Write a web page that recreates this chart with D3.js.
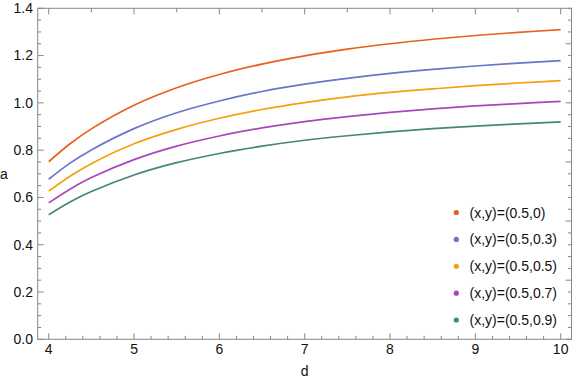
<!DOCTYPE html>
<html>
<head>
<meta charset="utf-8">
<script src="https://d3js.org/d3.v7.min.js"></script>
<style>
body { margin: 0; background: #fff; }
text { font-family: "Liberation Sans", Arial, sans-serif; }
.curve { fill: none; stroke-width: 1.7; }
</style>
</head>
<body>
<div id="chart"></div>
<script>
// d values sampled along the curves
const dVals = [4, 4.25, 4.5, 5, 5.5, 6, 6.5, 7, 7.5, 8, 8.5, 9, 9.5, 10];

const s00 = [0.751, 0.827, 0.890, 0.990, 1.064, 1.120, 1.164, 1.199, 1.227, 1.250, 1.269, 1.285, 1.298, 1.310];
const s03 = [0.677, 0.745, 0.801, 0.891, 0.958, 1.008, 1.048, 1.079, 1.104, 1.125, 1.142, 1.156, 1.168, 1.179];
const s05 = [0.627, 0.690, 0.743, 0.827, 0.888, 0.935, 0.972, 1.001, 1.025, 1.044, 1.059, 1.073, 1.084, 1.094];
const s07 = [0.577, 0.635, 0.684, 0.760, 0.817, 0.860, 0.894, 0.921, 0.942, 0.960, 0.975, 0.987, 0.997, 1.006];
const s09 = [0.527, 0.581, 0.625, 0.695, 0.747, 0.786, 0.817, 0.842, 0.861, 0.877, 0.891, 0.902, 0.911, 0.920];

const seriesNames = ["(x,y)=(0.5,0)", "(x,y)=(0.5,0.3)", "(x,y)=(0.5,0.5)", "(x,y)=(0.5,0.7)", "(x,y)=(0.5,0.9)"];
const seriesVals = [s00, s03, s05, s07, s09];
const colors = ["#e8611c", "#6a74c9", "#f5a00f", "#a648b8", "#44896f"];

const xTicks = [4, 5, 6, 7, 8, 9, 10];
const yTicks = [0, 0.2, 0.4, 0.6, 0.8, 1.0, 1.2, 1.4];

const W = 576, H = 383;
const mLeft = 37.7, mRight = 571.5, mTop = 8.3, mBottom = 339.3;

const svg = d3.select("#chart").append("svg")
  .attr("width", W).attr("height", H);

const x = d3.scaleLinear().domain([3.871, 10.127]).range([mLeft, mRight]);
const y = d3.scaleLinear().domain([0, 1.4]).range([mBottom, mTop]);

const frame = svg.append("g").attr("class", "frame");

// frame box
frame.append("rect")
  .attr("x", mLeft).attr("y", mTop)
  .attr("width", mRight - mLeft).attr("height", mBottom - mTop)
  .attr("fill", "none").attr("stroke", "#888").attr("stroke-width", 1);

// bottom ticks (inward)
const xMinor = d3.range(4, 10.001, 0.2).filter(v => Math.abs(v - Math.round(v)) > 1e-6);
frame.selectAll(".xmaj").data(xTicks).enter().append("line")
  .attr("x1", d => x(d)).attr("x2", d => x(d))
  .attr("y1", mBottom).attr("y2", mBottom - 6);
frame.selectAll(".xmin").data(xMinor).enter().append("line")
  .attr("x1", d => x(d)).attr("x2", d => x(d))
  .attr("y1", mBottom).attr("y2", mBottom - 3.5);

// top ticks
const xTop = d3.range(4, 10.001, 0.5);
frame.selectAll(".xtop").data(xTop).enter().append("line")
  .attr("x1", d => x(d)).attr("x2", d => x(d))
  .attr("y1", mTop).attr("y2", d => mTop + (Number.isInteger(d) ? 6 : 4));

// left ticks
const yMinor = d3.range(0, 1.4001, 0.05).filter(v => Math.abs(v * 5 - Math.round(v * 5)) > 1e-6);
frame.selectAll(".ymaj").data(yTicks).enter().append("line")
  .attr("x1", mLeft).attr("x2", mLeft + 6)
  .attr("y1", d => y(d)).attr("y2", d => y(d));
frame.selectAll(".ymin").data(yMinor).enter().append("line")
  .attr("x1", mLeft).attr("x2", mLeft + 3.5)
  .attr("y1", d => y(d)).attr("y2", d => y(d));

// right ticks
const yRight = d3.range(0, 1.4001, 0.05);
frame.selectAll(".yr").data(yRight).enter().append("line")
  .attr("x1", mRight).attr("x2", d => mRight - (Math.abs(d * 4 - Math.round(d * 4)) < 1e-6 ? 6 : 3.5))
  .attr("y1", d => y(d)).attr("y2", d => y(d));

frame.selectAll("line").attr("stroke", "#888").attr("stroke-width", 1);

// tick labels
svg.selectAll(".xl").data(xTicks).enter().append("text")
  .attr("x", d => x(d)).attr("y", 354)
  .attr("text-anchor", "middle").attr("font-size", 14).attr("fill", "#111")
  .text(d => d);

svg.selectAll(".yl").data(yTicks).enter().append("text")
  .attr("x", 33).attr("y", d => y(d)).attr("dy", "0.35em")
  .attr("text-anchor", "end").attr("font-size", 14).attr("fill", "#111")
  .text(d => d3.format(".1f")(d));

// axis titles
svg.append("text").attr("x", 4).attr("y", 179)
  .attr("text-anchor", "middle").attr("font-size", 14).attr("fill", "#111").text("a");
svg.append("text").attr("x", (mLeft + mRight) / 2).attr("y", 376)
  .attr("text-anchor", "middle").attr("font-size", 14).attr("fill", "#111").text("d");

// curves
const line = d3.line()
  .x((v, i) => x(dVals[i]))
  .y(v => y(v))
  .curve(d3.curveCatmullRom.alpha(0.5));

svg.selectAll(".curve").data(seriesVals).enter().append("path")
  .attr("class", "curve")
  .attr("stroke", (d, i) => colors[i])
  .attr("d", d => line(d));

// legend
const leg = svg.append("g");
const legY = d3.scaleLinear().domain([0, 4]).range([212.5, 320]);
leg.selectAll("circle").data(seriesNames).enter().append("circle")
  .attr("cx", 456.3).attr("cy", (d, i) => legY(i)).attr("r", 2.6)
  .attr("fill", (d, i) => colors[i]);
leg.selectAll("text").data(seriesNames).enter().append("text")
  .attr("x", 469.5).attr("y", (d, i) => legY(i)).attr("dy", "0.36em")
  .attr("font-size", 14).attr("fill", "#111")
  .text(d => d);
</script>
</body>
</html>
